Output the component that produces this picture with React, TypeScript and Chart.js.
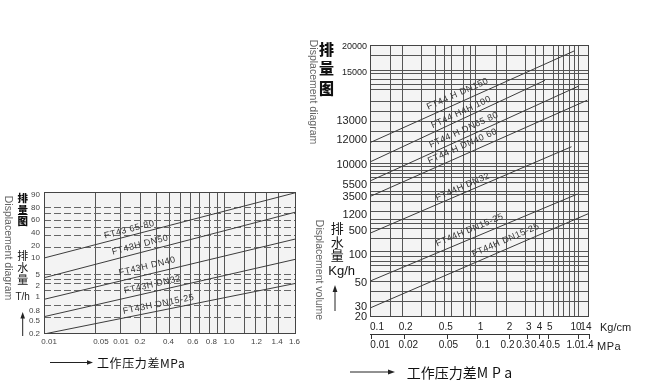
import React, { useEffect, useRef } from 'react';
import { Chart, registerables } from 'chart.js';

Chart.register(...registerables);

const FONT = '"Liberation Sans", Arial, sans-serif';
const CJK = '"Noto Sans CJK SC", "Noto Sans", sans-serif';

// ---------- Left nomogram (FT43), axes in nomogram units 0..100 ----------
const leftSeriesNames = ['FT43 65-80', 'FT43H DN50', 'FT43H DN40', 'FT43H DN32', 'FT43H DN15-25'];
const leftStartX = [0, 0, 0, 0, 0];
const leftStartY = [53.5, 39.6, 24.4, 12.2, 0];
const leftEndX = [100, 100, 100, 100, 100];
const leftEndY = [99.6, 85.9, 67.0, 52.7, 35.7];
const leftXGrid = [20.5, 30.2, 38.2, 44.6, 49.7, 54.0, 58.2, 61.7, 65.6, 69.0, 71.8, 79.4, 83.9, 88.3, 93.1];
const leftXTickLabels = ['0.01', '0.05', '0.01', '0.2', '0.4', '0.6', '0.8', '1.0', '1.2', '1.4', '1.6'];
const leftXTickAt = [2.0, 22.6, 30.6, 38.1, 49.4, 59.1, 66.4, 73.4, 84.3, 92.5, 99.4];
const leftYGrid = [89.2, 84.7, 79.8, 75.1, 69.7, 61.1, 42.0, 38.7, 35.6, 30.6, 20.4, 11.8];
const leftYTickLabels = ['90', '80', '60', '40', '20', '10', '5', '2', '1', '0.8', '0.5', '0.2'];
const leftYTickAt = [97.9, 88.7, 80.1, 71.1, 62.3, 53.9, 42.0, 34.2, 26.1, 16.4, 9.2, 0];
const leftLabelAt = [34.5, 38.9, 41.7, 43.7, 46.0];

// ---------- Right nomogram (FT44), axes in nomogram units 0..100 ----------
const rightSeriesNames = ['FT44 H DN150', 'FT44 H4H 100', 'FT44 H DN65 80', 'FT44 H DN40 60', 'FT44H DN32', 'FT44H DN15-25', 'FT44H DN15-25'];
const rightStartX = [0, 0, 0, 0, 0, 0, 0];
const rightStartY = [64.1, 57.0, 50.0, 44.3, 30.8, 13.2, 3.3];
const rightEndX = [93.2, 79.9, 95.0, 99.2, 92.0, 94.7, 100];
const rightEndY = [97.8, 87.0, 84.8, 79.7, 62.6, 45.2, 38.1];
const rightXGrid = [9.5, 14.7, 23.6, 29.7, 33.8, 37.3, 42.6, 46.1, 48.4, 57.7, 62.4, 70.9, 75.7, 79.4, 83.6, 86.2, 88.5, 91.2, 93.2, 95.2];
const rightYGrid = [96.3, 90.8, 89.5, 87.3, 85.3, 83.5, 79.4, 75.6, 71.9, 68.2, 64.5, 60.8, 56.4, 55.3, 54.0, 52.8, 51.3, 49.4, 46.1, 44.9, 42.5, 38.8, 36.0, 34.2, 32.4, 28.7, 24.1, 22.1, 20.4, 18.8, 16.9, 13.1, 9.4, 5.7];
const rightYTickLabels = ['20000', '15000', '13000', '12000', '10000', '5500', '3500', '1200', '500', '100', '50', '30', '20'];
const rightYTickAt = [99.5, 89.8, 72.2, 65.1, 55.9, 48.5, 44.0, 37.5, 31.7, 22.8, 12.4, 3.8, 0];
const kgTickLabels = ['0.1', '0.2', '0.5', '1', '2', '3', '4', '5', '10', '14'];
const kgTickAt = [3.2, 16.3, 34.6, 50.5, 63.7, 72.5, 77.4, 82.1, 94.1, 98.6];
const mpaTickLabels = ['0.01', '0.02', '0.05', '0.1', '0.2', '0.3', '0.4', '0.5', '1.0', '1.4'];
const mpaTickAt = [4.6, 17.5, 35.8, 51.6, 62.8, 69.9, 76.7, 83.6, 92.9, 98.9];
const mpaTickMarks = [0.5, 15.7, 35.2, 49.3, 63.6, 71.8, 77.5, 81.6, 95.1, 100];
const rightLabelAt = [41.6, 42.9, 44.3, 43.8, 43.4, 47.0, 63.5];

const LINE = '#3c3c3c';

function makePlugin(bg: string, labelAt: number[], labelOff: number[], fontSize: number) {
  return {
    id: 'nomo',
    beforeDraw(chart: any) {
      const { ctx, chartArea: a } = chart;
      ctx.save();
      ctx.fillStyle = bg;
      ctx.fillRect(a.left, a.top, a.right - a.left, a.bottom - a.top);
      ctx.restore();
    },
    afterDraw(chart: any) {
      const { ctx, chartArea: a } = chart;
      ctx.save();
      ctx.strokeStyle = '#444';
      ctx.lineWidth = 1;
      ctx.strokeRect(a.left + 0.5, a.top + 0.5, a.right - a.left - 1, a.bottom - a.top - 1);
      const xs = chart.scales.x;
      const ys = chart.scales.y;
      ctx.fillStyle = '#333';
      ctx.font = `${fontSize}px ${FONT}`;
      try { (ctx as any).letterSpacing = '0.5px'; } catch (e) { /* ignore */ }
      ctx.textAlign = 'center';
      ctx.textBaseline = 'middle';
      chart.data.datasets.forEach((ds: any, i: number) => {
        const p0 = ds.data[0];
        const p1 = ds.data[1];
        const x0 = xs.getPixelForValue(p0.x);
        const y0 = ys.getPixelForValue(p0.y);
        const x1 = xs.getPixelForValue(p1.x);
        const y1 = ys.getPixelForValue(p1.y);
        const ang = Math.atan2(y1 - y0, x1 - x0);
        const cx = xs.getPixelForValue(labelAt[i]);
        const cy = y0 + ((cx - x0) * (y1 - y0)) / (x1 - x0);
        const off = labelOff[i];
        ctx.save();
        ctx.translate(cx + Math.sin(ang) * off, cy - Math.cos(ang) * off);
        ctx.rotate(ang);
        ctx.fillText(ds.label, 0, 0);
        ctx.restore();
      });
      ctx.restore();
    },
  };
}

function fixedTicks(arr: number[]) {
  return (s: any) => {
    s.ticks = arr.map((v) => ({ value: v }));
  };
}

function buildLeft(canvas: HTMLCanvasElement) {
  const datasets = leftSeriesNames.map((name, i) => ({
    label: name,
    data: [
      { x: leftStartX[i], y: leftStartY[i] },
      { x: leftEndX[i], y: leftEndY[i] },
    ],
    showLine: true,
    pointRadius: 0,
    borderColor: LINE,
    borderWidth: 1,
    fill: false,
  }));
  return new Chart(canvas, {
    type: 'scatter',
    data: { datasets },
    options: {
      responsive: false,
      animation: false,
      events: [],
      layout: { padding: { left: 0, top: 192, right: 354, bottom: 37 } },
      plugins: { legend: { display: false }, tooltip: { enabled: false } },
      scales: {
        x: {
          type: 'linear', axis: 'x', position: 'bottom', min: 0, max: 100, weight: 0,
          grid: { color: '#555', lineWidth: 1, drawTicks: false },
          border: { display: false },
          ticks: { display: false },
          afterBuildTicks: fixedTicks(leftXGrid),
          afterFit: (s: any) => { s.height = 0; },
        },
        xl: {
          type: 'linear', axis: 'x', position: 'bottom', min: 0, max: 100, weight: 1,
          grid: { display: false, drawTicks: false },
          border: { display: false },
          ticks: {
            autoSkip: false, maxRotation: 0, minRotation: 0, padding: 3, color: '#444',
            font: { family: FONT, size: 8 },
            callback: (_v: any, i: number) => leftXTickLabels[i],
          },
          afterBuildTicks: fixedTicks(leftXTickAt),
          afterFit: (s: any) => { s.height = 12; },
        },
        y: {
          type: 'linear', axis: 'y', position: 'left', min: 0, max: 100, weight: 0,
          grid: { color: '#666', lineWidth: 1, drawTicks: false },
          border: { display: false, dash: [7, 3] },
          ticks: { display: false },
          afterBuildTicks: fixedTicks(leftYGrid),
          afterFit: (s: any) => { s.width = 0; },
        },
        yl: {
          type: 'linear', axis: 'y', position: 'left', min: 0, max: 100, weight: 1,
          grid: { display: false, drawTicks: false },
          border: { display: false },
          ticks: {
            autoSkip: false, padding: 4, color: '#444',
            font: { family: FONT, size: 8 },
            callback: (_v: any, i: number) => leftYTickLabels[i],
          },
          afterBuildTicks: fixedTicks(leftYTickAt),
          afterFit: (s: any) => { s.width = 44; },
        },
      },
    } as any,
    plugins: [makePlugin('#f3f3f3', leftLabelAt, [6, 7.5, 8, 7, 6.5], 9)],
  });
}

function buildRight(canvas: HTMLCanvasElement) {
  const datasets = rightSeriesNames.map((name, i) => ({
    label: name,
    data: [
      { x: rightStartX[i], y: rightStartY[i] },
      { x: rightEndX[i], y: rightEndY[i] },
    ],
    showLine: true,
    pointRadius: 0,
    borderColor: LINE,
    borderWidth: 1,
    fill: false,
  }));
  return new Chart(canvas, {
    type: 'scatter',
    data: { datasets },
    options: {
      responsive: false,
      animation: false,
      events: [],
      layout: { padding: { left: 0, top: 45, right: 61, bottom: 30 } },
      plugins: { legend: { display: false }, tooltip: { enabled: false } },
      scales: {
        x: {
          type: 'linear', axis: 'x', position: 'bottom', min: 0, max: 100, weight: 0,
          grid: { color: '#555', lineWidth: 1, drawTicks: false },
          border: { display: false },
          ticks: { display: false },
          afterBuildTicks: fixedTicks(rightXGrid),
          afterFit: (s: any) => { s.height = 0; },
        },
        xkg: {
          type: 'linear', axis: 'x', position: 'bottom', min: 0, max: 100, weight: 1,
          grid: { display: false, drawTicks: false },
          border: { display: false },
          ticks: {
            autoSkip: false, maxRotation: 0, minRotation: 0, padding: 4, color: '#222',
            font: { family: FONT, size: 10 },
            callback: (_v: any, i: number) => kgTickLabels[i],
          },
          afterBuildTicks: fixedTicks(kgTickAt),
          afterFit: (s: any) => { s.height = 17; },
        },
        xmpa: {
          type: 'linear', axis: 'x', position: 'bottom', min: 0, max: 100, weight: 2,
          grid: { display: true, drawOnChartArea: false, drawTicks: true, tickLength: 5, color: '#333' },
          border: { display: true, color: '#333', width: 1 },
          ticks: { autoSkip: false, maxRotation: 0, minRotation: 0, callback: () => '' },
          afterBuildTicks: fixedTicks(mpaTickMarks),
          afterFit: (s: any) => { s.height = 5; },
        },
        xmpal: {
          type: 'linear', axis: 'x', position: 'bottom', min: 0, max: 100, weight: 3,
          grid: { display: false, drawTicks: false },
          border: { display: false },
          ticks: {
            autoSkip: false, maxRotation: 0, minRotation: 0, padding: 0, color: '#222',
            font: { family: FONT, size: 10 },
            callback: (_v: any, i: number) => mpaTickLabels[i],
          },
          afterBuildTicks: fixedTicks(mpaTickAt),
          afterFit: (s: any) => { s.height = 14; },
        },
        y: {
          type: 'linear', axis: 'y', position: 'left', min: 0, max: 100, weight: 0,
          grid: { color: '#555', lineWidth: 1, drawTicks: false },
          border: { display: false },
          ticks: { display: false },
          afterBuildTicks: fixedTicks(rightYGrid),
          afterFit: (s: any) => { s.width = 0; },
        },
        yl: {
          type: 'linear', axis: 'y', position: 'left', min: 0, max: 100, weight: 1,
          grid: { display: false, drawTicks: false },
          border: { display: false },
          ticks: {
            autoSkip: false, padding: 3, color: '#222',
            font: (ctx: any) => ({ family: FONT, size: ctx.index < 2 ? 9 : 11 }),
            callback: (_v: any, i: number) => rightYTickLabels[i],
          },
          afterBuildTicks: fixedTicks(rightYTickAt),
          afterFit: (s: any) => { s.width = 370; },
        },
      },
    } as any,
    plugins: [makePlugin('#f4f4f4', rightLabelAt, [8.5, 6.5, 7.5, 8.5, 6, 8.5, 8.5], 9)],
  });
}

const abs = (x: number, y: number, extra: React.CSSProperties = {}, center = true): React.CSSProperties => ({
  position: 'absolute',
  left: x,
  top: y,
  whiteSpace: 'nowrap',
  lineHeight: 1,
  transform: center ? 'translate(-50%, -50%)' : 'translate(0, -50%)',
  ...extra,
});

function VChars({ text, x, y0, pitch, size, bold }: { text: string; x: number; y0: number; pitch: number; size: number; bold?: boolean }) {
  return (
    <>
      {Array.from(text).map((ch, i) => (
        <div key={i} style={abs(x, y0 + i * pitch, { fontFamily: CJK, fontSize: size, fontWeight: bold ? 900 : 400, color: '#111' })}>
          {ch}
        </div>
      ))}
    </>
  );
}

export default function App() {
  const leftRef = useRef<HTMLCanvasElement>(null);
  const rightRef = useRef<HTMLCanvasElement>(null);

  useEffect(() => {
    const a = buildLeft(leftRef.current as HTMLCanvasElement);
    const b = buildRight(rightRef.current as HTMLCanvasElement);
    return () => {
      a.destroy();
      b.destroy();
    };
  }, []);

  return (
    <div style={{ position: 'fixed', left: 0, top: 0, width: 650, height: 383, background: '#fff', overflow: 'hidden' }}>
      <canvas ref={leftRef} width={650} height={383} style={{ position: 'absolute', left: 0, top: 0, width: 650, height: 383 }} />
      <canvas ref={rightRef} width={650} height={383} style={{ position: 'absolute', left: 0, top: 0, width: 650, height: 383 }} />

      {/* Left panel texts */}
      <div style={abs(8.5, 247.5, { transform: 'translate(-50%, -50%) rotate(90deg)', fontFamily: FONT, fontSize: 10.5, color: '#666' })}>
        Displacement diagram
      </div>
      <VChars text="排量图" x={22.7} y0={198.3} pitch={11.4} size={10.5} bold />
      <VChars text="排水量" x={22.7} y0={255} pitch={12.2} size={11} />
      <div style={abs(22.7, 296.7, { fontFamily: FONT, fontSize: 10, color: '#222' })}>T/h</div>
      <div style={abs(97, 362.7, { fontFamily: CJK, fontSize: 12, letterSpacing: '0.6px', color: '#111' }, false)}>工作压力差MPa</div>

      {/* Right panel texts */}
      <div style={abs(314, 91.5, { transform: 'translate(-50%, -50%) rotate(90deg)', fontFamily: FONT, fontSize: 10.5, color: '#666' })}>
        Displacement diagram
      </div>
      <VChars text="排量图" x={326.5} y0={47.5} pitch={19.6} size={15} bold />
      <div style={abs(320, 270, { transform: 'translate(-50%, -50%) rotate(90deg)', fontFamily: FONT, fontSize: 10.5, color: '#666' })}>
        Displacement volume
      </div>
      <VChars text="排水量" x={337.3} y0={227.3} pitch={13.4} size={13} />
      <div style={abs(341.7, 270, { fontFamily: FONT, fontSize: 13, color: '#111' })}>Kg/h</div>
      <div style={abs(600, 326.7, { fontFamily: FONT, fontSize: 11, color: '#222' }, false)}>Kg/cm</div>
      <div style={abs(597, 345.5, { fontFamily: FONT, fontSize: 11, letterSpacing: '0.5px', color: '#222' }, false)}>MPa</div>
      <div style={abs(406.7, 372, { fontFamily: CJK, fontSize: 14, color: '#111' }, false)}>
        工作压力差<span style={{ letterSpacing: '4px' }}>MPa</span>
      </div>

      <svg width={650} height={383} style={{ position: 'absolute', left: 0, top: 0 }}>
        {/* left up arrow */}
        <line x1={22.7} y1={336} x2={22.7} y2={317} stroke="#222" strokeWidth={1} />
        <polygon points="22.7,312 20.4,318.5 25,318.5" fill="#222" />
        {/* left bottom arrow */}
        <line x1={50} y1={362.5} x2={88} y2={362.5} stroke="#222" strokeWidth={1} />
        <polygon points="93,362.5 87,360.2 87,364.8" fill="#222" />
        {/* right up arrow */}
        <line x1={335} y1={311} x2={335} y2={290} stroke="#222" strokeWidth={1} />
        <polygon points="335,285 332.6,292 337.4,292" fill="#222" />
        {/* right bottom arrow */}
        <line x1={350} y1={372} x2={389} y2={372} stroke="#222" strokeWidth={1} />
        <polygon points="395,372 388,369.5 388,374.5" fill="#222" />
      </svg>
    </div>
  );
}
